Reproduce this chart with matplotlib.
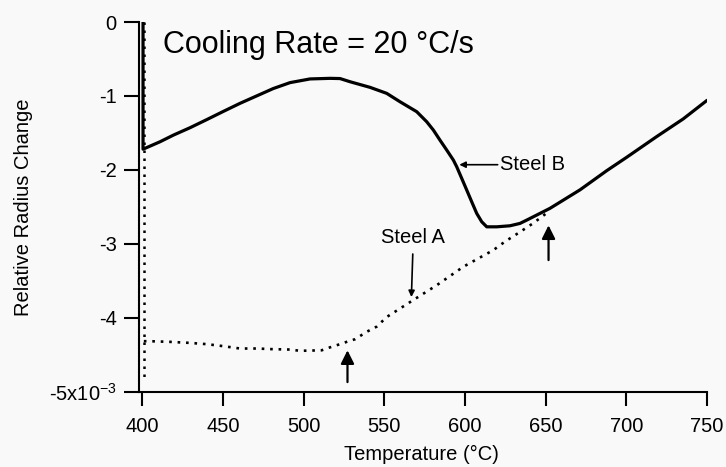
import matplotlib
matplotlib.use("Agg")
import matplotlib.pyplot as plt
from matplotlib.ticker import FixedLocator, FixedFormatter

plt.rcParams['font.family'] = ['Liberation Sans', 'DejaVu Sans']
plt.rcParams['mathtext.fontset'] = 'custom'
plt.rcParams['mathtext.rm'] = 'Liberation Sans'
plt.rcParams['mathtext.it'] = 'Liberation Sans:italic'
plt.rcParams['mathtext.bf'] = 'Liberation Sans:bold'

# Steel B (solid curve): temperature (°C) vs relative radius change (x1e-3)
steel_b_T = [400.5, 400.5, 411, 419.3, 429.6, 440, 450.2, 460.6, 470.9, 481.2,
             491.6, 504, 516.4, 522.6, 528.8, 541.2, 551.5, 559.7, 570.1, 576.3,
             580.4, 584.5, 588.7, 592.8, 594.9, 598, 601.1, 604.2, 607.3, 610.4,
             613.5, 619.7, 627.9, 634.1, 638.3, 652.7, 671.3, 687.9, 700.2,
             718.8, 735.3, 750]
steel_b_v = [0.0, -1.72, -1.62, -1.53, -1.43, -1.32, -1.21, -1.10, -1.00, -0.90,
             -0.82, -0.77, -0.762, -0.765, -0.808, -0.884, -0.965, -1.078, -1.213,
             -1.349, -1.461, -1.597, -1.732, -1.867, -1.958, -2.115, -2.273,
             -2.432, -2.589, -2.702, -2.770, -2.770, -2.756, -2.724, -2.679,
             -2.52, -2.27, -2.01, -1.83, -1.55, -1.31, -1.06]

# Steel A (dotted curve)
steel_a_T = [401, 404.8, 417.2, 429.6, 440, 450.2, 460.6, 470.9, 481.2, 491.6,
             497.8, 511.2, 516.4, 522.6, 526.7, 531.9, 539.1, 545.3, 551.5, 568,
             582.5, 599, 617.6, 624.8, 634.1, 642.4, 652.7]
steel_a_v = [-4.317, -4.317, -4.326, -4.34, -4.357, -4.384, -4.416, -4.416,
             -4.425, -4.43, -4.447, -4.44, -4.40, -4.357, -4.326, -4.29, -4.19,
             -4.12, -3.99, -3.76, -3.56, -3.31, -3.085, -2.97, -2.84, -2.72, -2.55]

# Steel A isothermal hold at 400 °C
hold_a_T = [400.8, 400.8]
hold_a_v = [0.0, -4.85]

# Transformation markers (temperature, arrow tip, arrow tail)
marker_T = [527.2, 651.8]
marker_tip = [-4.44, -2.75]
marker_tail = [-4.87, -3.22]

x_ticks = [400, 450, 500, 550, 600, 650, 700, 750]
y_ticks = [0, -1, -2, -3, -4, -5]
y_labels = ['0', '-1', '-2', '-3', '-4', r'-5x10$^{-3}$']

bg = '#f8f9f8'
fig = plt.figure(figsize=(7.26, 4.67), dpi=100, facecolor=bg)
ax = fig.add_axes([139 / 726, 1 - 391.7 / 467, 568 / 726, 369.7 / 467])
ax.set_facecolor(bg)

ax.plot(hold_a_T, hold_a_v, color='black', lw=1.8, linestyle=(0, (1, 2.2)))
ax.plot(steel_a_T, steel_a_v, color='black', lw=1.9, linestyle=(0, (1, 2.2)))
ax.plot(steel_b_T, steel_b_v, color='black', lw=2.3,
        solid_joinstyle='round', solid_capstyle='round')

ax.set_xlim(398, 750)
ax.set_ylim(-5, 0)

for s in ['top', 'right']:
    ax.spines[s].set_visible(False)
for s in ['left', 'bottom']:
    ax.spines[s].set_linewidth(1.5)

ax.xaxis.set_major_locator(FixedLocator(x_ticks))
ax.xaxis.set_major_formatter(FixedFormatter([str(t) for t in x_ticks]))
ax.yaxis.set_major_locator(FixedLocator(y_ticks))
ax.yaxis.set_major_formatter(FixedFormatter(y_labels))
ax.tick_params(axis='x', direction='out', length=10, width=1.5, pad=8, labelsize=14.5)
ax.tick_params(axis='y', direction='out', length=11, width=1.5, pad=5, labelsize=14.5)

ax.set_xlabel('Temperature (°C)', fontsize=14.5)
ax.xaxis.set_label_coords(0.497, -0.145)
ax.set_ylabel('Relative Radius Change', fontsize=14.5)
ax.yaxis.set_label_coords(-0.187, 0.5)

ax.text(413, -0.42, 'Cooling Rate = 20 °C/s', fontsize=22, va='baseline', ha='left')

# Curve labels
ax.annotate('Steel B', xy=(596.5, -1.93), xytext=(622, -1.93), fontsize=14.5,
            va='center', ha='left',
            arrowprops=dict(arrowstyle='-|>', color='black', lw=1.2,
                            mutation_scale=9, shrinkA=0, shrinkB=0))
ax.annotate('Steel A', xy=(566.8, -3.72), xytext=(568, -2.99), fontsize=14.5,
            va='baseline', ha='center',
            arrowprops=dict(arrowstyle='-|>', color='black', lw=1.2,
                            mutation_scale=9, shrinkA=3, shrinkB=0))

for t, tip, tail in zip(marker_T, marker_tip, marker_tail):
    ax.annotate('', xy=(t, tip), xytext=(t, tail),
                arrowprops=dict(arrowstyle='-|>', color='black', lw=1.6,
                                mutation_scale=20, shrinkA=0, shrinkB=0))

fig.savefig('out.png', dpi=100, facecolor=bg)
